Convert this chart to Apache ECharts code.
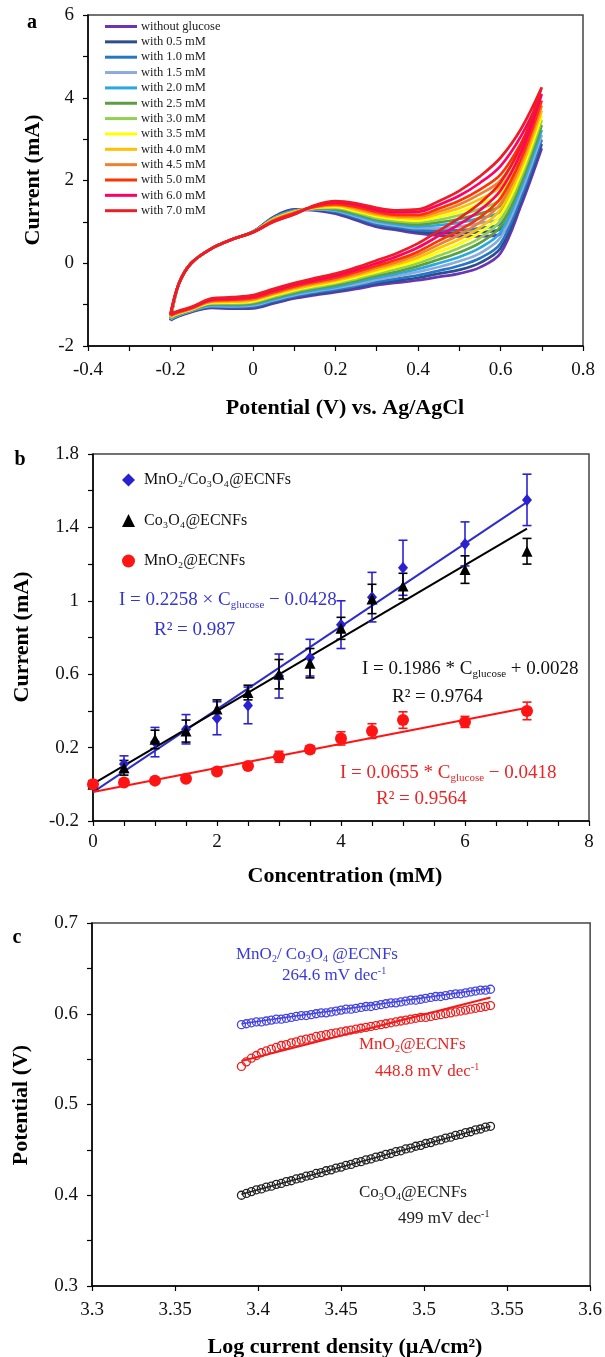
<!DOCTYPE html>
<html><head><meta charset="utf-8">
<script src="https://cdn.jsdelivr.net/npm/echarts@6/dist/echarts.min.js"></script>
<style>html,body{margin:0;padding:0;background:#fff}#c{width:605px;height:1357px}</style>
</head><body><div id="c"></div><script>
// ---------- Panel a: cyclic voltammograms ----------
const potentialScan = [-0.2,-0.18,-0.15,-0.1,-0.05,0,0.05,0.1,0.15,0.2,0.25,0.3,0.35,0.4,0.45,0.5,0.55,0.6,0.65,0.7,
  0.7,0.65,0.6,0.55,0.5,0.45,0.4,0.35,0.3,0.25,0.2,0.15,0.1,0.05,0,-0.05,-0.1,-0.15,-0.18,-0.2];
const cv_0  = [-1.38,-0.5,0,0.36,0.58,0.76,1.12,1.3,1.28,1.2,1.04,0.88,0.8,0.72,0.67,0.65,0.65,0.7,1.7,2.78, 2.78,1.4,0.24,-0.1,-0.25,-0.33,-0.41,-0.47,-0.53,-0.62,-0.7,-0.77,-0.85,-0.97,-1.09,-1.1,-1.08,-1.18,-1.28,-1.38];
const cv_05 = [-1.37,-0.5,0,0.36,0.58,0.76,1.11,1.29,1.29,1.22,1.07,0.91,0.83,0.76,0.73,0.73,0.75,0.83,1.81,2.88, 2.88,1.50,0.36,0.01,-0.16,-0.25,-0.35,-0.42,-0.49,-0.58,-0.67,-0.74,-0.82,-0.95,-1.07,-1.08,-1.06,-1.17,-1.27,-1.37];
const cv_10 = [-1.36,-0.5,0,0.36,0.58,0.76,1.10,1.28,1.30,1.24,1.10,0.94,0.87,0.80,0.79,0.80,0.85,0.96,1.92,2.99, 2.99,1.60,0.48,0.12,-0.06,-0.18,-0.29,-0.37,-0.45,-0.55,-0.64,-0.71,-0.80,-0.92,-1.05,-1.06,-1.05,-1.16,-1.26,-1.36];
const cv_15 = [-1.35,-0.5,0,0.36,0.58,0.76,1.09,1.27,1.31,1.27,1.13,0.98,0.91,0.85,0.85,0.89,0.97,1.11,2.04,3.10, 3.10,1.72,0.62,0.24,0.05,-0.09,-0.21,-0.31,-0.40,-0.51,-0.60,-0.68,-0.77,-0.89,-1.02,-1.04,-1.03,-1.15,-1.25,-1.35];
const cv_20 = [-1.33,-0.5,0,0.36,0.58,0.76,1.08,1.26,1.32,1.29,1.16,1.02,0.94,0.89,0.92,0.98,1.09,1.26,2.17,3.22, 3.22,1.84,0.75,0.37,0.15,0.0,-0.14,-0.25,-0.35,-0.46,-0.57,-0.65,-0.74,-0.87,-0.99,-1.02,-1.01,-1.14,-1.24,-1.33];
const cv_25 = [-1.32,-0.5,0,0.36,0.58,0.76,1.07,1.25,1.33,1.31,1.20,1.06,0.98,0.94,0.99,1.07,1.20,1.40,2.29,3.34, 3.34,1.95,0.89,0.49,0.26,0.09,-0.07,-0.20,-0.30,-0.42,-0.53,-0.61,-0.71,-0.84,-0.97,-0.99,-0.99,-1.13,-1.23,-1.32];
const cv_30 = [-1.31,-0.5,0,0.36,0.58,0.75,1.07,1.25,1.34,1.34,1.23,1.09,1.02,0.99,1.05,1.16,1.32,1.55,2.41,3.46, 3.46,2.07,1.03,0.61,0.37,0.18,0.0,-0.14,-0.25,-0.38,-0.49,-0.58,-0.68,-0.81,-0.94,-0.97,-0.97,-1.12,-1.22,-1.31];
const cv_35 = [-1.29,-0.5,0,0.36,0.58,0.75,1.06,1.24,1.34,1.36,1.26,1.13,1.06,1.03,1.12,1.24,1.43,1.70,2.54,3.57, 3.57,2.18,1.16,0.74,0.47,0.27,0.07,-0.08,-0.21,-0.34,-0.46,-0.55,-0.65,-0.78,-0.92,-0.95,-0.96,-1.12,-1.21,-1.29];
const cv_40 = [-1.28,-0.5,0,0.36,0.58,0.75,1.05,1.23,1.35,1.39,1.29,1.17,1.10,1.08,1.19,1.33,1.55,1.85,2.66,3.69, 3.69,2.30,1.30,0.86,0.58,0.36,0.14,-0.02,-0.16,-0.30,-0.42,-0.52,-0.62,-0.75,-0.89,-0.93,-0.94,-1.11,-1.20,-1.28];
const cv_45 = [-1.27,-0.5,0,0.36,0.58,0.75,1.04,1.22,1.36,1.41,1.33,1.20,1.14,1.13,1.25,1.42,1.67,2.00,2.79,3.81, 3.81,2.42,1.44,0.99,0.69,0.45,0.21,0.03,-0.11,-0.26,-0.39,-0.48,-0.59,-0.73,-0.87,-0.90,-0.92,-1.10,-1.19,-1.27];
const cv_50 = [-1.26,-0.5,0,0.36,0.58,0.75,1.03,1.21,1.37,1.43,1.36,1.24,1.17,1.17,1.32,1.51,1.78,2.14,2.91,3.93, 3.93,2.53,1.57,1.11,0.80,0.54,0.28,0.09,-0.06,-0.21,-0.35,-0.45,-0.56,-0.70,-0.84,-0.88,-0.90,-1.09,-1.18,-1.26];
const cv_60 = [-1.24,-0.5,0,0.36,0.58,0.75,1.01,1.19,1.39,1.47,1.41,1.29,1.23,1.24,1.41,1.63,1.94,2.35,3.08,4.09, 4.09,2.69,1.76,1.28,0.94,0.66,0.38,0.17,0.0,-0.16,-0.30,-0.41,-0.52,-0.66,-0.81,-0.85,-0.88,-1.07,-1.16,-1.24];
const cv_70 = [-1.22,-0.5,0,0.36,0.58,0.75,1.0,1.18,1.4,1.5,1.45,1.34,1.28,1.3,1.5,1.75,2.1,2.55,3.25,4.25, 4.25,2.85,1.95,1.45,1.09,0.78,0.48,0.25,0.07,-0.1,-0.25,-0.36,-0.48,-0.62,-0.77,-0.82,-0.85,-1.06,-1.15,-1.22];
const cvNames = ['without glucose','with 0.5 mM','with 1.0 mM','with 1.5 mM','with 2.0 mM','with 2.5 mM','with 3.0 mM','with 3.5 mM','with 4.0 mM','with 4.5 mM','with 5.0 mM','with 6.0 mM','with 7.0 mM'];
const cvColors = ['#6a35b5','#2e4d8e','#2577c6','#8ea9db','#29a9e0','#5a9f40','#92d050','#ffff00','#ffc000','#f08030','#ff3300','#ff0066','#ee1c25'];
const cvCurves = [cv_0,cv_05,cv_10,cv_15,cv_20,cv_25,cv_30,cv_35,cv_40,cv_45,cv_50,cv_60,cv_70];

// ---------- Panel b: calibration ----------
const concentration = [0,0.5,1,1.5,2,2.5,3,3.5,4,4.5,5,6,7];
const currMnCo = [0,0.11,0.23,0.30,0.36,0.43,0.59,0.69,0.87,1.02,1.18,1.31,1.55];
const errMnCo  = [0.02,0.045,0.08,0.08,0.09,0.10,0.12,0.10,0.13,0.135,0.15,0.12,0.14];
const currCo   = [0,0.09,0.245,0.29,0.41,0.50,0.60,0.66,0.85,1.01,1.08,1.17,1.27];
const errCo    = [0.02,0.04,0.05,0.06,0.05,0.04,0.08,0.08,0.06,0.08,0.07,0.075,0.07];
const currMn   = [0,0.01,0.02,0.03,0.07,0.10,0.15,0.19,0.25,0.29,0.35,0.34,0.40];
const errMn    = [0.01,0.01,0.01,0.01,0.015,0.015,0.03,0.02,0.036,0.04,0.045,0.03,0.048];
const fitConc  = [0,7];
const fitMnCo  = [-0.0428,1.5378];
const fitCo    = [0.0028,1.3930];
const fitMn    = [-0.0418,0.4167];

// ---------- Panel c: Tafel ----------
const logJ = [3.390,3.393,3.396,3.399,3.402,3.405,3.408,3.411,3.414,3.417,3.420,3.423,3.426,3.429,3.432,3.435,3.438,3.441,3.444,3.447,3.450,3.453,3.456,3.459,3.462,3.465,3.468,3.471,3.474,3.477,3.480,3.483,3.486,3.489,3.492,3.495,3.498,3.501,3.504,3.507,3.510,3.513,3.516,3.519,3.522,3.525,3.528,3.531,3.534,3.537,3.540];
const tafelMnCo = [0.588,0.589,0.590,0.591,0.591,0.592,0.593,0.594,0.594,0.595,0.596,0.597,0.598,0.598,0.599,0.600,0.601,0.601,0.602,0.603,0.604,0.605,0.605,0.606,0.607,0.608,0.608,0.609,0.610,0.611,0.612,0.612,0.613,0.614,0.615,0.615,0.616,0.617,0.618,0.619,0.619,0.620,0.621,0.622,0.622,0.623,0.624,0.625,0.626,0.626,0.627];
const tafelMn = [0.542,0.547,0.551,0.554,0.557,0.559,0.561,0.563,0.565,0.566,0.568,0.569,0.571,0.572,0.573,0.575,0.576,0.577,0.578,0.579,0.580,0.581,0.582,0.583,0.584,0.585,0.586,0.587,0.588,0.589,0.590,0.591,0.592,0.593,0.594,0.595,0.596,0.596,0.597,0.598,0.599,0.600,0.601,0.602,0.603,0.604,0.605,0.606,0.607,0.608,0.609];
const tafelCo = [0.400,0.402,0.404,0.406,0.407,0.409,0.410,0.412,0.413,0.415,0.416,0.418,0.419,0.421,0.422,0.424,0.425,0.427,0.428,0.430,0.431,0.433,0.434,0.436,0.437,0.439,0.440,0.442,0.443,0.445,0.446,0.448,0.449,0.451,0.452,0.454,0.455,0.457,0.458,0.460,0.461,0.463,0.464,0.466,0.467,0.469,0.470,0.472,0.473,0.475,0.476];
const tafelFitX = [3.39,3.54];
const tafelFitMnCo = [0.589,0.628];
const tafelFitMn = [0.548,0.618];
const tafelFitCo = [0.401,0.476];

// ---------- styling ----------
const SERIF = "'Liberation Serif','Times New Roman',serif";
const BLUE_B = '#2a22d2', RED_B = '#ff1414';
const BLUE_C = '#4444e0', RED_C = '#f01c1c';

function axis(extra) {
  return Object.assign({
    type: 'value',
    axisLine: {show: true, onZero: false, lineStyle: {color: '#000', width: 1.5}},
    axisTick: {show: true, inside: false, length: 5, lineStyle: {color: '#000', width: 1.2}},
    splitLine: {show: false},
    axisLabel: {fontFamily: SERIF, fontSize: 19, color: '#111'}
  }, extra);
}
function lab(extra){ return Object.assign({fontFamily: SERIF, fontSize: 19, color: '#111'}, extra); }

function errSeries(xs, ys, es, color, idx) {
  return {
    type: 'custom', xAxisIndex: idx, yAxisIndex: idx, z: 3, silent: true,
    data: xs.map((x, i) => [x, ys[i] - es[i], ys[i] + es[i]]),
    renderItem: function (params, api) {
      const x = api.value(0);
      const lo = api.coord([x, api.value(1)]);
      const hi = api.coord([x, api.value(2)]);
      const w = 4.5;
      const st = {stroke: color, lineWidth: 1.6};
      return {type: 'group', children: [
        {type: 'line', shape: {x1: lo[0], y1: lo[1], x2: hi[0], y2: hi[1]}, style: st},
        {type: 'line', shape: {x1: lo[0]-w, y1: lo[1], x2: lo[0]+w, y2: lo[1]}, style: st},
        {type: 'line', shape: {x1: hi[0]-w, y1: hi[1], x2: hi[0]+w, y2: hi[1]}, style: st}
      ]};
    }
  };
}

function txt(x, y, text, color, size, opts) {
  opts = opts || {};
  const sub = opts.sub || Math.round(size * 0.6);
  return {
    type: 'text', x: x, y: y, rotation: opts.rotation || 0, z: 50,
    style: {
      text: text, fill: color, fontFamily: SERIF, fontSize: size,
      fontWeight: opts.bold ? 'bold' : 'normal',
      align: opts.align || 'left', verticalAlign: 'middle',
      rich: {
        sub: {fontFamily: SERIF, fontSize: sub, fill: color, fontWeight: opts.bold ? 'bold':'normal', padding: [Math.round(size*0.55),0,0,0]},
        sup: {fontFamily: SERIF, fontSize: sub, fill: color, fontWeight: opts.bold ? 'bold':'normal', padding: [0,0,Math.round(size*0.55),0]}
      }
    }
  };
}

const series = [];
cvCurves.forEach((c, i) => {
  series.push({
    name: cvNames[i], type: 'line', xAxisIndex: 0, yAxisIndex: 0,
    data: potentialScan.map((v, j) => [v, c[j]]),
    smooth: 0.35, symbol: 'none', z: 2 + i * 0.01,
    lineStyle: {width: 2.7, color: cvColors[i]}, itemStyle: {color: cvColors[i]}
  });
});

// panel b
const bNames = ['MnO\u2082/Co\u2083O\u2084@ECNFs', 'Co\u2083O\u2084@ECNFs', 'MnO\u2082@ECNFs'];
series.push({type: 'line', xAxisIndex: 1, yAxisIndex: 1, data: fitConc.map((x,i)=>[x, fitMnCo[i]]), symbol:'none', lineStyle:{color:'#2d2dc8', width:2}, z: 2, silent: true});
series.push({type: 'line', xAxisIndex: 1, yAxisIndex: 1, data: fitConc.map((x,i)=>[x, fitCo[i]]), symbol:'none', lineStyle:{color:'#000', width:2}, z: 2, silent: true});
series.push({type: 'line', xAxisIndex: 1, yAxisIndex: 1, data: fitConc.map((x,i)=>[x, fitMn[i]]), symbol:'none', lineStyle:{color:RED_B, width:2}, z: 2, silent: true});
series.push(errSeries(concentration, currMnCo, errMnCo, BLUE_B, 1));
series.push(errSeries(concentration, currCo, errCo, '#000', 1));
series.push(errSeries(concentration, currMn, errMn, RED_B, 1));
series.push({name: bNames[0], type: 'scatter', xAxisIndex: 1, yAxisIndex: 1, symbol: 'diamond', symbolSize: [10, 12],
  data: concentration.map((x,i)=>[x, currMnCo[i]]), itemStyle: {color: BLUE_B, opacity: 1}, z: 5});
series.push({name: bNames[1], type: 'scatter', xAxisIndex: 1, yAxisIndex: 1, symbol: 'triangle', symbolSize: [11, 11],
  data: concentration.map((x,i)=>[x, currCo[i]]), itemStyle: {color: '#000', opacity: 1}, z: 6});
series.push({name: bNames[2], type: 'scatter', xAxisIndex: 1, yAxisIndex: 1, symbol: 'circle', symbolSize: 12,
  data: concentration.map((x,i)=>[x, currMn[i]]), itemStyle: {color: RED_B, opacity: 1}, z: 7});

// panel c
function tafel(ys, color) {
  return {type: 'scatter', xAxisIndex: 2, yAxisIndex: 2, symbol: 'circle', symbolSize: 8, z: 4,
    data: logJ.map((x,i)=>[x, ys[i]]), itemStyle: {color: 'rgba(255,255,255,0)', borderColor: color, borderWidth: 1.3, opacity: 1}};
}
series.push(tafel(tafelMnCo, BLUE_C));
series.push(tafel(tafelMn, RED_C));
series.push(tafel(tafelCo, '#222'));
series.push({type: 'line', xAxisIndex: 2, yAxisIndex: 2, data: tafelFitX.map((x,i)=>[x, tafelFitMnCo[i]]), symbol:'none', lineStyle:{color:BLUE_C, width:1.5}, z: 5, silent: true});
series.push({type: 'line', xAxisIndex: 2, yAxisIndex: 2, data: tafelFitX.map((x,i)=>[x, tafelFitMn[i]]), symbol:'none', lineStyle:{color:RED_C, width:2}, z: 5, silent: true});
series.push({type: 'line', xAxisIndex: 2, yAxisIndex: 2, data: tafelFitX.map((x,i)=>[x, tafelFitCo[i]]), symbol:'none', lineStyle:{color:'#222', width:1.5}, z: 5, silent: true});

const gridStyle = {show: true, borderColor: '#444', borderWidth: 1.5, backgroundColor: 'transparent'};

const option = {
  animation: false,
  backgroundColor: '#fff',
  grid: [
    Object.assign({left: 88, top: 15, width: 495, height: 331}, gridStyle),
    Object.assign({left: 93, top: 454, width: 496, height: 367}, gridStyle),
    Object.assign({left: 92, top: 923, width: 500, height: 363}, gridStyle)
  ],
  xAxis: [
    axis({gridIndex: 0, min: -0.4, max: 0.8, interval: 0.1,
      axisLabel: lab({margin: 15, formatter: v => { const r = Math.round(v*10); return r % 2 === 0 ? String(r/10) : ''; }})}),
    axis({gridIndex: 1, min: 0, max: 8, interval: 0.5,
      axisLabel: lab({margin: 12, formatter: v => { const r = Math.round(v*2); return r % 4 === 0 ? String(r/2) : ''; }})}),
    axis({gridIndex: 2, min: 3.3, max: 3.6, interval: 0.05,
      axisLabel: lab({margin: 15, formatter: v => String(Math.round(v*100)/100)})})
  ],
  yAxis: [
    axis({gridIndex: 0, min: -2, max: 6, interval: 1,
      axisLabel: lab({margin: 14, formatter: v => { const r = Math.round(v); return r % 2 === 0 ? String(r) : ''; }})}),
    axis({gridIndex: 1, min: -0.2, max: 1.8, interval: 0.2,
      axisLabel: lab({margin: 14, formatter: v => { const r = Math.round(v*10); return ((r + 2) % 4 === 0) ? String(r/10) : ''; }})}),
    axis({gridIndex: 2, min: 0.3, max: 0.7, interval: 0.05,
      axisLabel: lab({margin: 14, formatter: v => { const r = Math.round(v*100); return r % 10 === 0 ? String(r/100) : ''; }})})
  ],
  legend: [
    {data: cvNames, orient: 'vertical', left: 100, top: 15, icon: 'rect', itemWidth: 32, itemHeight: 3, itemGap: 2.35,
      textStyle: {fontFamily: SERIF, fontSize: 12.5, color: '#222', lineHeight: 12, padding: [0,0,0,-1]}, selectedMode: false},
    {data: bNames, orient: 'vertical', left: 117, top: 467, itemWidth: 13, itemHeight: 13, itemGap: 24.5,
      textStyle: {fontFamily: SERIF, fontSize: 16, color: '#111', lineHeight: 16, padding: [0,0,0,4]}, selectedMode: false}
  ],
  series: series,
  graphic: [
    txt(32, 23, 'a', '#000', 20, {bold: true, align: 'center'}),
    txt(20, 460, 'b', '#000', 20, {bold: true, align: 'center'}),
    txt(17, 938, 'c', '#000', 20, {bold: true, align: 'center'}),
    txt(33, 180, 'Current (mA)', '#000', 22, {bold: true, align: 'center', rotation: Math.PI/2}),
    txt(345, 408, 'Potential (V) vs. Ag/AgCl', '#000', 22, {bold: true, align: 'center'}),
    txt(22, 637, 'Current (mA)', '#000', 22, {bold: true, align: 'center', rotation: Math.PI/2}),
    txt(345, 876, 'Concentration (mM)', '#000', 22, {bold: true, align: 'center'}),
    txt(21, 1105, 'Potential (V)', '#000', 22, {bold: true, align: 'center', rotation: Math.PI/2}),
    txt(345, 1347, 'Log current density (\u00b5A/cm\u00b2)', '#000', 22, {bold: true, align: 'center'}),
    // panel b annotations
    txt(119, 600, 'I = 0.2258 \u00d7 C{sub|glucose} \u2212 0.0428', '#3535d0', 19, {sub: 11}),
    txt(154, 630, 'R\u00b2 = 0.987', '#3535d0', 19),
    txt(362, 669, 'I = 0.1986 * C{sub|glucose} + 0.0028', '#111', 19, {sub: 11}),
    txt(392, 697, 'R\u00b2 = 0.9764', '#111', 19),
    txt(340, 773, 'I = 0.0655 * C{sub|glucose} \u2212 0.0418', '#ee2222', 19, {sub: 11}),
    txt(376, 799, 'R\u00b2 = 0.9564', '#ee2222', 19),
    // panel c annotations
    txt(236, 955, 'MnO{sub|2}/ Co{sub|3}O{sub|4} @ECNFs', '#3a3ad8', 17),
    txt(282, 976, '264.6 mV dec{sup|-1}', '#3a3ad8', 17),
    txt(359, 1045, 'MnO{sub|2}@ECNFs', '#ee2222', 17),
    txt(375, 1072, '448.8 mV dec{sup|-1}', '#ee2222', 17),
    txt(359, 1193, 'Co{sub|3}O{sub|4}@ECNFs', '#222', 17),
    txt(398, 1219, '499 mV dec{sup|-1}', '#222', 17)
  ]
};
const chart = echarts.init(document.getElementById('c'), null, {renderer: 'canvas'});
chart.setOption(option);
</script></body></html>
